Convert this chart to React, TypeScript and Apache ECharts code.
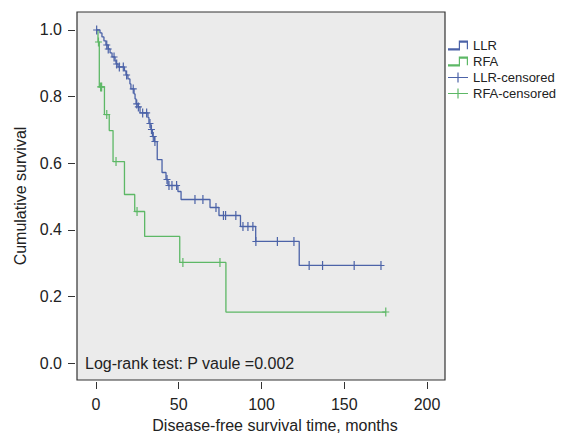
import React, { useEffect, useRef } from "react";
import * as echarts from "echarts";

// Kaplan-Meier step points: [time (months), survival after the event]
const llrSteps: [number, number][] = [
  [0, 1.0], [2.4, 0.991], [3.6, 0.979], [4.8, 0.967], [6.0, 0.955], [7.3, 0.943],
  [8.5, 0.931], [9.7, 0.919], [11.5, 0.907], [12.1, 0.898], [13.3, 0.889],
  [17.2, 0.877], [18.1, 0.865], [19.3, 0.853], [20.5, 0.838], [21.1, 0.823],
  [23.0, 0.808], [23.6, 0.793], [24.2, 0.778], [25.4, 0.769], [26.6, 0.751],
  [31.4, 0.737], [32.0, 0.719], [33.2, 0.701], [34.1, 0.68], [35.3, 0.665],
  [37.0, 0.611], [39.9, 0.572], [42.3, 0.551], [43.5, 0.533], [49.5, 0.515],
  [51.4, 0.491], [68.9, 0.467], [74.3, 0.443], [87.3, 0.41], [96.5, 0.365],
  [122.8, 0.293], [172.2, 0.293],
];
const rfaSteps: [number, number][] = [
  [0, 1.0], [1.2, 0.964], [2.0, 0.829], [5.1, 0.746], [8.0, 0.698], [10.3, 0.605],
  [17.2, 0.506], [23.4, 0.455], [29.4, 0.38], [50.6, 0.302], [78.5, 0.153],
  [175.1, 0.153],
];
const llrCensored: [number, number][] = [
  [0.4, 1.0], [6.5, 0.955], [7.4, 0.943], [10.9, 0.919], [12.5, 0.898], [14.1, 0.889],
  [16.5, 0.889], [18.5, 0.865], [22.5, 0.823], [24.6, 0.778], [25.6, 0.769],
  [28.2, 0.751], [30.6, 0.751], [32.6, 0.719], [33.5, 0.701], [34.6, 0.68],
  [35.6, 0.665], [42.9, 0.551], [44.1, 0.533], [45.9, 0.533], [48.7, 0.533],
  [59.8, 0.491], [64.6, 0.491], [72.5, 0.467], [77.0, 0.443], [78.3, 0.443],
  [84.5, 0.443], [88.8, 0.41], [91.8, 0.41], [94.8, 0.41], [96.6, 0.365],
  [109.6, 0.365], [119.6, 0.365], [128.8, 0.293], [136.9, 0.293], [156.0, 0.293],
  [172.2, 0.293],
];
const rfaCensored: [number, number][] = [
  [1.5, 0.964], [2.8, 0.829], [3.4, 0.829], [6.5, 0.746], [12.1, 0.605],
  [24.8, 0.455], [52.5, 0.302], [74.9, 0.302], [175.1, 0.153],
];
const xTicks = [0, 50, 100, 150, 200];
const yTicks = [0, 0.2, 0.4, 0.6, 0.8, 1.0];
const seriesNames = ["LLR", "RFA", "LLR-censored", "RFA-censored"];
const annotation = "Log-rank test: P vaule =0.002";
const xTitle = "Disease-free survival time, months";
const yTitle = "Cumulative survival";

const BLUE = "#4c63a8";
const GREEN = "#5db866";
const FONT = "'Liberation Sans', Arial, Helvetica, sans-serif";

const PLUS = "path://M0,4.4L7,4.4L7,5.6L0,5.6Z M2.9,0L4.1,0L4.1,10L2.9,10Z";
const STEP_ICON =
  "path://M0,6.5L10.8,6.5L10.8,2.5L20,2.5L20,7L18.8,7L18.8,3.7L12,3.7L12,7.7L0,7.7Z";
const PLUS_ICON = "path://M0,4.4L20,4.4L20,5.6L0,5.6Z M9.4,0L10.6,0L10.6,10L9.4,10Z";

export default function App() {
  const ref = useRef<HTMLDivElement>(null);
  useEffect(() => {
    if (!ref.current) return;
    const chart = echarts.init(ref.current, undefined, { renderer: "svg" });
    chart.setOption({
      animation: false,
      backgroundColor: "#ffffff",
      textStyle: { fontFamily: FONT },
      grid: {
        left: 77,
        right: 120,
        top: 12,
        bottom: 57,
        show: true,
        backgroundColor: "#ebebeb",
        borderColor: "#333333",
        borderWidth: 1.2,
      },
      legend: {
        orient: "vertical",
        left: 448,
        top: 38,
        itemWidth: 20,
        itemHeight: 10,
        itemGap: 1,
        padding: 0,
        symbolKeepAspect: false,
        textStyle: { fontSize: 13, color: "#222", lineHeight: 15, fontFamily: FONT },
        data: [
          { name: seriesNames[0], icon: STEP_ICON, itemStyle: { color: BLUE } },
          { name: seriesNames[1], icon: STEP_ICON, itemStyle: { color: GREEN } },
          { name: seriesNames[2], icon: PLUS_ICON, itemStyle: { color: BLUE } },
          { name: seriesNames[3], icon: PLUS_ICON, itemStyle: { color: GREEN } },
        ],
      },
      xAxis: {
        type: "value",
        min: -11.48,
        max: 210.88,
        offset: 2,
        name: xTitle,
        nameLocation: "middle",
        nameGap: 35,
        nameTextStyle: { fontSize: 16, color: "#222", padding: [0, 0, 0, 28], fontFamily: FONT },
        axisLine: { show: false, onZero: false },
        axisTick: { show: true, inside: false, length: 7, customValues: xTicks, lineStyle: { color: "#333" } },
        axisLabel: {
          customValues: xTicks,
          margin: 14,
          fontSize: 16,
          color: "#222",
          fontFamily: FONT,
        },
        splitLine: { show: false },
      },
      yAxis: {
        type: "value",
        min: -0.0509,
        max: 1.0539,
        offset: 2,
        name: yTitle,
        nameLocation: "middle",
        nameGap: 45,
        nameTextStyle: { fontSize: 16, color: "#222", fontFamily: FONT },
        axisLine: { show: false, onZero: false },
        axisTick: { show: true, inside: false, length: 7, customValues: yTicks, lineStyle: { color: "#333" } },
        axisLabel: {
          customValues: yTicks,
          margin: 13,
          fontSize: 16,
          color: "#222",
          fontFamily: FONT,
          formatter: (v: number) => v.toFixed(1),
        },
        splitLine: { show: false },
      },
      graphic: [
        {
          type: "text",
          left: 85,
          top: 355,
          style: { text: annotation, font: `16px ${FONT}`, fill: "#222" },
        },
      ],
      series: [
        {
          name: seriesNames[0],
          type: "line",
          step: "end",
          data: llrSteps,
          symbol: "none",
          clip: false,
          color: BLUE,
          lineStyle: { color: BLUE, width: 1.3 },
          z: 3,
        },
        {
          name: seriesNames[1],
          type: "line",
          step: "end",
          data: rfaSteps,
          symbol: "none",
          clip: false,
          color: GREEN,
          lineStyle: { color: GREEN, width: 1.3 },
          z: 2,
        },
        {
          name: seriesNames[2],
          type: "scatter",
          data: llrCensored,
          symbol: PLUS,
          symbolSize: [7, 9],
          symbolKeepAspect: false,
          clip: false,
          itemStyle: { color: BLUE, opacity: 1 },
          z: 4,
        },
        {
          name: seriesNames[3],
          type: "scatter",
          data: rfaCensored,
          symbol: PLUS,
          symbolSize: [7, 9],
          symbolKeepAspect: false,
          clip: false,
          itemStyle: { color: GREEN, opacity: 1 },
          z: 4,
        },
      ],
    });
    return () => chart.dispose();
  }, []);
  return (
    <div
      ref={ref}
      style={{ position: "fixed", left: 0, top: 0, width: 565, height: 438 }}
    />
  );
}
